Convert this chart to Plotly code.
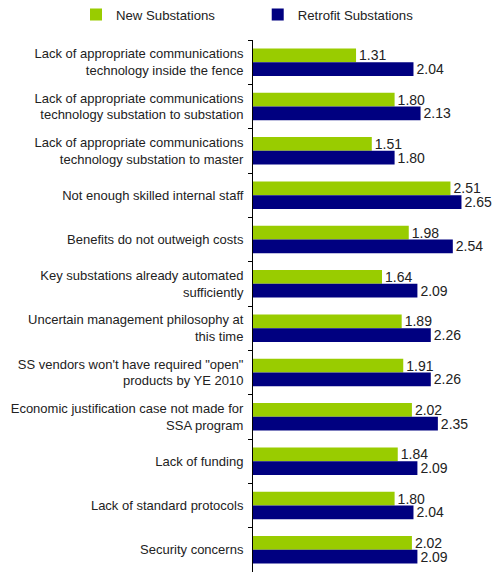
import plotly.graph_objects as go

categories = [
    "Lack of appropriate communications<br>technology inside the fence",
    "Lack of appropriate communications<br>technology substation to substation",
    "Lack of appropriate communications<br>technology substation to master",
    "Not enough skilled internal staff",
    "Benefits do not outweigh costs",
    "Key substations already automated<br>sufficiently",
    "Uncertain management philosophy at<br>this time",
    "SS vendors won't have required \"open\"<br>products by YE 2010",
    "Economic justification case not made for<br>SSA program",
    "Lack of funding",
    "Lack of standard protocols",
    "Security concerns",
]
new_vals = [1.31, 1.80, 1.51, 2.51, 1.98, 1.64, 1.89, 1.91, 2.02, 1.84, 1.80, 2.02]
retro_vals = [2.04, 2.13, 1.80, 2.65, 2.54, 2.09, 2.26, 2.26, 2.35, 2.09, 2.04, 2.09]
series_names = ["New Substations", "Retrofit Substations"]
colors = ["#99CC00", "#000080"]
legend_ids = ["legend", "legend2"]

fig = go.Figure()
for name, vals, col, lg in zip(series_names, [new_vals, retro_vals], colors, legend_ids):
    fig.add_trace(go.Bar(
        y=categories, x=vals, name=name, orientation="h", legend=lg,
        showlegend=True,
        marker=dict(color=col, line=dict(width=0)),
        text=[f"{v:.2f}" for v in vals], textposition="outside",
        constraintext="none",
        textfont=dict(family="Liberation Sans, Arial", size=14, color="#222"),
        cliponaxis=False,
    ))

leg_common = dict(orientation="h", xref="paper", yref="paper",
                  y=1.047, xanchor="left", yanchor="middle", itemwidth=30,
                  font=dict(size=13.2, color="#222"), bgcolor="rgba(0,0,0,0)")
fig.update_layout(
    width=495, height=575, showlegend=True,
    margin=dict(l=253, r=6, t=40, b=3, autoexpand=False),
    barmode="group", bargap=0.38, bargroupgap=0,
    plot_bgcolor="white", paper_bgcolor="white",
    font=dict(family="Liberation Sans, Arial", size=13, color="#222"),
    legend=dict(x=-0.75, **leg_common),
    legend2=dict(x=0.02, **leg_common),
    xaxis=dict(range=[0, 3.0], visible=False),
    yaxis=dict(autorange="reversed", showline=True, linecolor="black", linewidth=1,
               ticks="outside", ticklen=4, tickcolor="black", tickson="boundaries",
               ticklabelstandoff=6, showgrid=False, zeroline=False),
)
fig.write_html("out.html")
